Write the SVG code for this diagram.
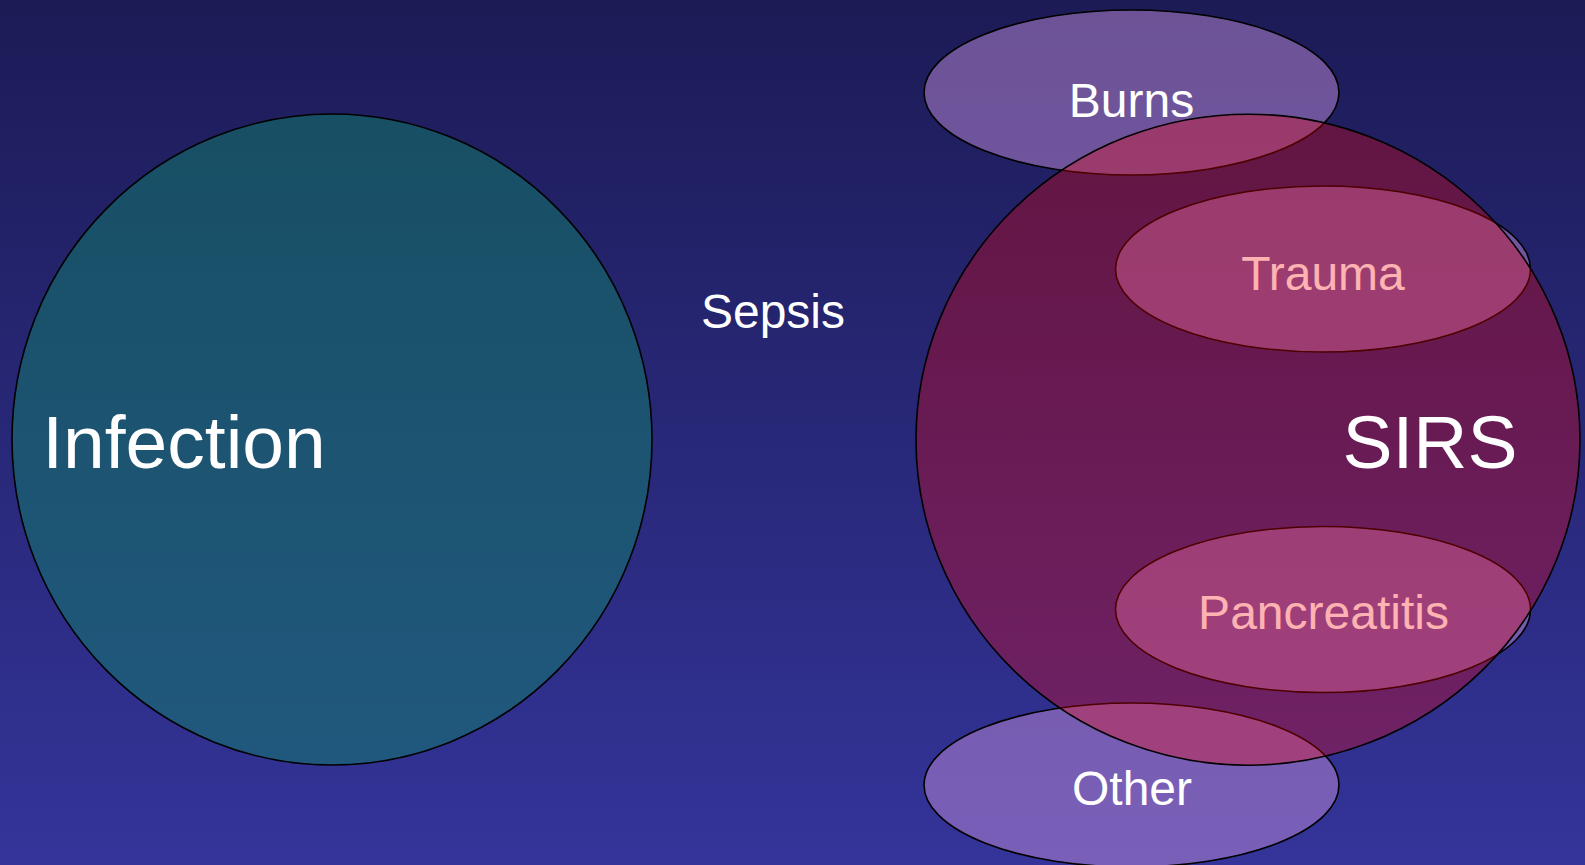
<svg xmlns="http://www.w3.org/2000/svg" width="1585" height="865" viewBox="0 0 1585 865">
  <defs>
    <linearGradient id="bg" x1="0" y1="0" x2="0" y2="1">
      <stop offset="0" stop-color="#1c1b56"/>
      <stop offset="1" stop-color="#34349a"/>
    </linearGradient>
  </defs>
  <style>
    .shape { stroke: #000000; stroke-width: 1.6; }
    .infection { fill: #10806a; fill-opacity: 0.5; }
    .cause { fill: #be8ad6; fill-opacity: 0.5; }
    .sirs { fill: #ff0000; fill-opacity: 0.3; }
    .lbl { font-family: "Liberation Sans", Arial, sans-serif; fill: #ffffff; text-anchor: middle; }
    .big { font-size: 75px; }
    .small { font-size: 48px; }
  </style>
  <rect x="0" y="0" width="1585" height="865" fill="url(#bg)"/>

  <g id="infection">
    <ellipse class="shape infection" cx="332" cy="439.5" rx="320" ry="325.5"/>
    <text class="lbl big" x="184" y="468" text-anchor="middle">Infection</text>
  </g>

  <g id="sepsis">
    <text class="lbl small" x="773" y="328">Sepsis</text>
  </g>

  <g id="burns">
    <ellipse class="shape cause" cx="1131.5" cy="92.5" rx="207.5" ry="82.5"/>
    <text class="lbl small" x="1131.5" y="117">Burns</text>
  </g>

  <g id="trauma">
    <ellipse class="shape cause" cx="1323" cy="269" rx="207.5" ry="83"/>
    <text class="lbl small" x="1323" y="290">Trauma</text>
  </g>

  <g id="pancreatitis">
    <ellipse class="shape cause" cx="1323" cy="609.5" rx="207.5" ry="83"/>
    <text class="lbl small" x="1323.5" y="629">Pancreatitis</text>
  </g>

  <g id="other">
    <ellipse class="shape cause" cx="1131.5" cy="785" rx="207.5" ry="82"/>
    <text class="lbl small" x="1132" y="805">Other</text>
  </g>

  <g id="sirs">
    <ellipse class="shape sirs" cx="1248" cy="439.7" rx="332" ry="325.5"/>
    <text class="lbl big" x="1430" y="468">SIRS</text>
  </g>

  <g id="connectors"></g>
</svg>
